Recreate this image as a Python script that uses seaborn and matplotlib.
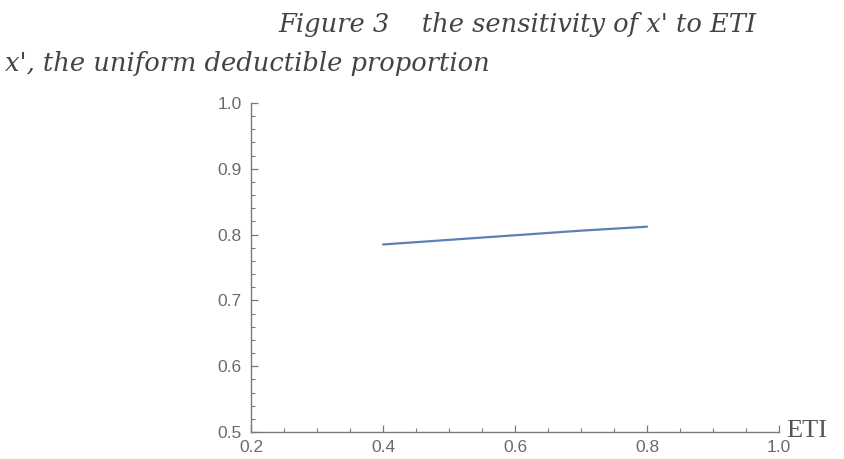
import matplotlib
matplotlib.use("Agg")
import matplotlib.pyplot as plt
from matplotlib.ticker import MultipleLocator
import seaborn as sns
import pandas as pd

# sensitivity of the uniform deductible proportion x' to ETI
eti = [0.4, 0.5, 0.6, 0.7, 0.8]
x_prime = [0.785, 0.792, 0.799, 0.806, 0.812]

x_ticks = [0.2, 0.4, 0.6, 0.8, 1.0]
y_ticks = [0.5, 0.6, 0.7, 0.8, 0.9, 1.0]

sns.set_style("ticks")
plt.rcParams["font.family"] = ["Liberation Sans", "DejaVu Sans"]

df = pd.DataFrame({"ETI": eti, "x'": x_prime})

fig = plt.figure(figsize=(8.45, 4.59), dpi=100)
ax = fig.add_axes([0.297, 0.0588, 0.625, 0.7168])

sns.lineplot(data=df, x="ETI", y="x'", ax=ax, color="#5E81B5", linewidth=1.6)

ax.set_xlim(0.2, 1.0)
ax.set_ylim(0.5, 1.0)
ax.set_xticks(x_ticks)
ax.set_yticks(y_ticks)
ax.set_xticklabels([f"{v:.1f}" for v in x_ticks])
ax.set_yticklabels([f"{v:.1f}" for v in y_ticks])
ax.xaxis.set_minor_locator(MultipleLocator(0.05))
ax.yaxis.set_minor_locator(MultipleLocator(0.02))

axis_gray = "#7a7a7a"
for side in ("top", "right"):
    ax.spines[side].set_visible(False)
for side in ("left", "bottom"):
    ax.spines[side].set_color(axis_gray)
    ax.spines[side].set_linewidth(1.0)

ax.tick_params(which="major", direction="in", length=5, width=0.9,
               color=axis_gray, labelsize=12.5, labelcolor="#6a6a6a")
ax.tick_params(which="minor", direction="in", length=3, width=0.8,
               color=axis_gray)
ax.tick_params(axis="x", which="major", pad=5.5)
ax.tick_params(axis="y", which="major", pad=6.5)

ax.set_xlabel("")
ax.set_ylabel("")

serif = ["DejaVu Serif", "Liberation Serif"]
fig.text(0.612, 0.947, "Figure 3    the sensitivity of x' to ETI",
         ha="center", va="center", fontsize=18.5, style="italic",
         family=serif, color="#444444")
fig.text(0.006, 0.862, "x', the uniform deductible proportion",
         ha="left", va="center", fontsize=18.5, style="italic",
         family=serif, color="#444444")
fig.text(0.930, 0.047, "ETI", ha="left", va="baseline", fontsize=19,
         family=["Liberation Serif", "DejaVu Serif"], color="#555555")

fig.savefig("out.png", dpi=100)
